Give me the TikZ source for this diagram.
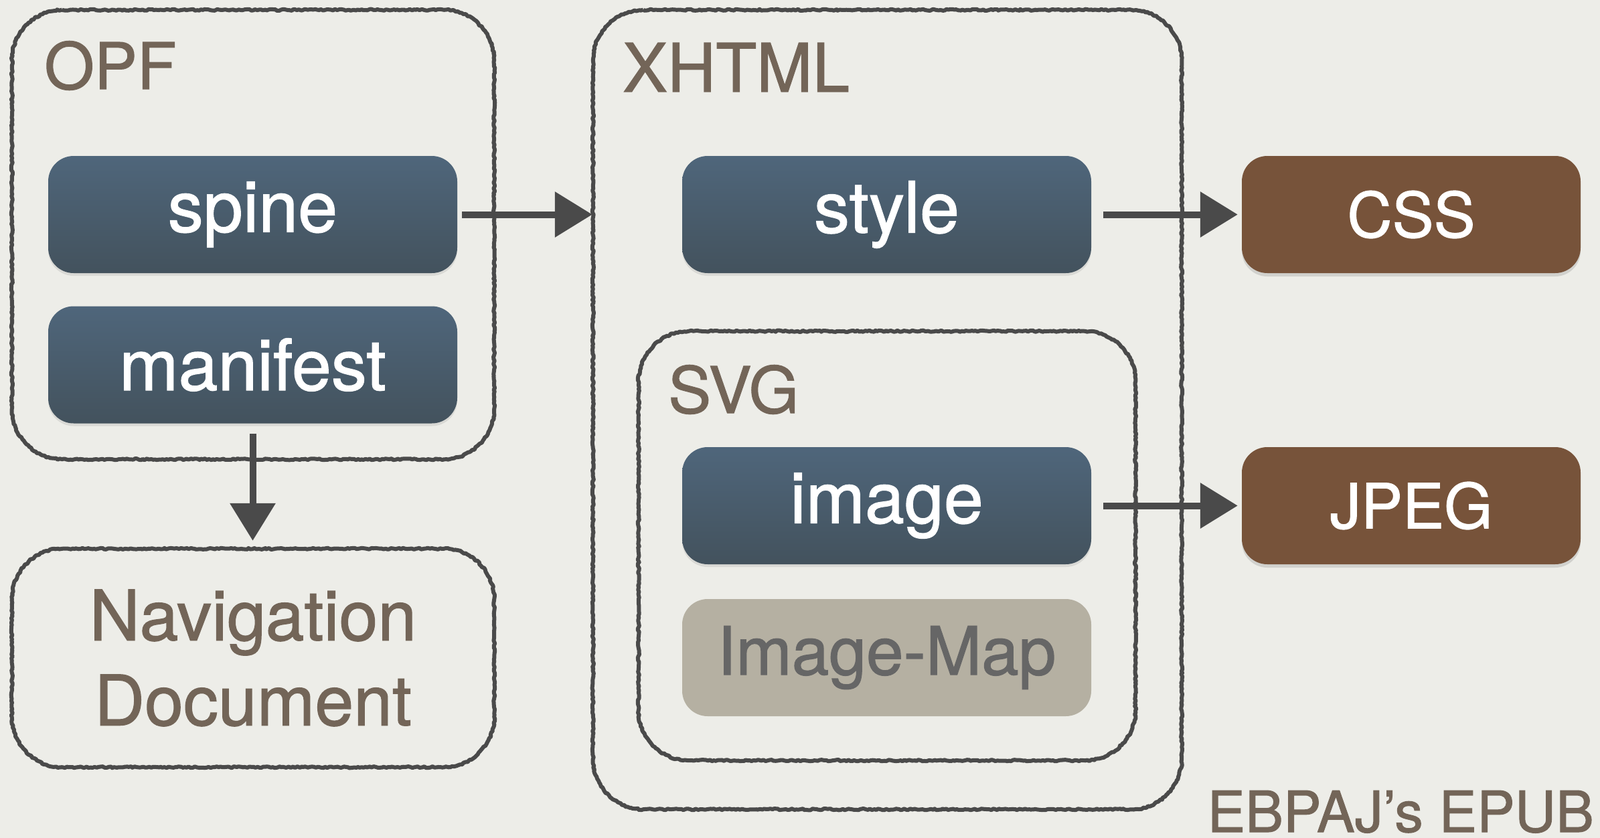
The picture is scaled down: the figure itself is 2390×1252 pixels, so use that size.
\documentclass[tikz,border=0pt]{standalone}
\usepackage{fontspec}
\setmainfont[FakeBold=1.2]{TeX Gyre Heros}
\usetikzlibrary{arrows.meta,decorations.pathmorphing,shadows,calc}
\definecolor{bg}{HTML}{EDEDE8}
\definecolor{linegray}{HTML}{4A4A4A}
\definecolor{bluetop}{HTML}{4F667B}
\definecolor{bluebot}{HTML}{43525D}
\definecolor{brownbox}{HTML}{77533A}
\definecolor{mapfill}{HTML}{B5B0A2}
\definecolor{maptext}{HTML}{666666}
\definecolor{labeltext}{HTML}{736558}
\tikzset{
  bigfont/.style={font=\fontsize{96}{125}\selectfont},
  boxfont/.style={font=\fontsize{106}{125}\selectfont},
  frame/.style={draw=none, inner sep=0pt},
  sketchline/.style={draw=linegray, line width=6pt, line join=round,
    decorate, decoration={random steps, segment length=3pt, amplitude=1.1pt}},
  framelabel/.style={bigfont, text=labeltext, inner sep=0pt, anchor=base west},
  bluebox/.style={rounded corners=38pt, top color=bluetop, bottom color=bluebot,
    draw=none, text=white, boxfont, minimum width=611pt, minimum height=175pt,
    inner sep=0pt, drop shadow={shadow xshift=0pt, shadow yshift=-4pt, opacity=0.18}},
  brownbox/.style={rounded corners=38pt, fill=brownbox, draw=none, text=white,
    font=\fontsize{93}{110}\selectfont, minimum width=506pt, minimum height=175pt, inner sep=0pt,
    drop shadow={shadow xshift=0pt, shadow yshift=-5pt, opacity=0.25}},
  mapbox/.style={rounded corners=38pt, fill=mapfill, draw=none, text=maptext,
    font=\fontsize{100}{120}\selectfont, minimum width=611pt, minimum height=175pt, inner sep=0pt},
  sketcharrow/.style={draw=linegray, line width=10pt,
    -{Triangle[length=56pt, width=66pt]}},
}
% rounded frame with radius 75pt, control points at 0.45 r from the corner
\newcommand{\sketchframe}[1]{%
  \draw[sketchline] let \p1=(#1.north west), \p2=(#1.south east) in
    (\x1+75pt,\y1) -- (\x2-75pt,\y1) .. controls (\x2-34pt,\y1) and (\x2,\y1-34pt) .. (\x2,\y1-75pt)
    -- (\x2,\y2+75pt) .. controls (\x2,\y2+34pt) and (\x2-34pt,\y2) .. (\x2-75pt,\y2)
    -- (\x1+75pt,\y2) .. controls (\x1+34pt,\y2) and (\x1,\y2+34pt) .. (\x1,\y2+75pt)
    -- (\x1,\y1-75pt) .. controls (\x1,\y1-34pt) and (\x1+34pt,\y1) .. (\x1+75pt,\y1) -- cycle;}
\begin{document}
\begin{tikzpicture}[x=1pt,y=-1pt]
\fill[bg] (0,0) rectangle (2390,1252);
\useasboundingbox (0,0) rectangle (2390,1252);

% frames
\node[frame, minimum width=720pt, minimum height=671pt] (opf) at (378,350.5) {};
\node[frame, minimum width=720pt, minimum height=326pt, font=\fontsize{104}{127}\selectfont, text=labeltext, align=center] (nav) at (378,983) {Navigation\\Document};
\node[frame, minimum width=879pt, minimum height=1194pt] (xhtml) at (1325.5,612) {};
\node[frame, minimum width=742pt, minimum height=641pt] (svg) at (1325,815.5) {};
\sketchframe{opf}
\sketchframe{nav}
\sketchframe{xhtml}
\sketchframe{svg}

% frame labels
\node[framelabel] (opflabel) at (66,133) {OPF};
\node[framelabel, font=\fontsize{100}{120}\selectfont] (xhtmllabel) at (930,137) {XHTML};
\node[framelabel] (svglabel) at (998,617) {SVG};

% inner boxes
\node[bluebox] (spine) at (377.5,320.5) {spine};
\node[bluebox] (manifest) at (377.5,545) {manifest};
\node[bluebox] (style) at (1324.5,320.5) {style};
\node[bluebox] (image) at (1324.5,755.5) {image};
\node[mapbox] (imagemap) at (1324.5,982.5) {Image-Map};
\node[brownbox] (css) at (2108,320.5) {CSS};
\node[brownbox] (jpeg) at (2108,755.5) {JPEG};

% arrows
\draw[sketcharrow, shorten <=7pt, shorten >=1pt] (spine.east) -- (spine.east -| xhtml.west);
\draw[sketcharrow, shorten <=18pt, shorten >=6pt] (style.east) -- (css.west);
\draw[sketcharrow, shorten <=18pt, shorten >=6pt] (image.east) -- (jpeg.west);
\draw[sketcharrow, shorten <=15pt, shorten >=12pt] (manifest.south) -- (manifest.south |- nav.north);

% footer
\node[font=\fontsize{85}{95}\selectfont, text=labeltext, anchor=base east, inner sep=0pt] (footer) at (2381,1243) {EBPAJ’s EPUB};
\end{tikzpicture}
\end{document}
